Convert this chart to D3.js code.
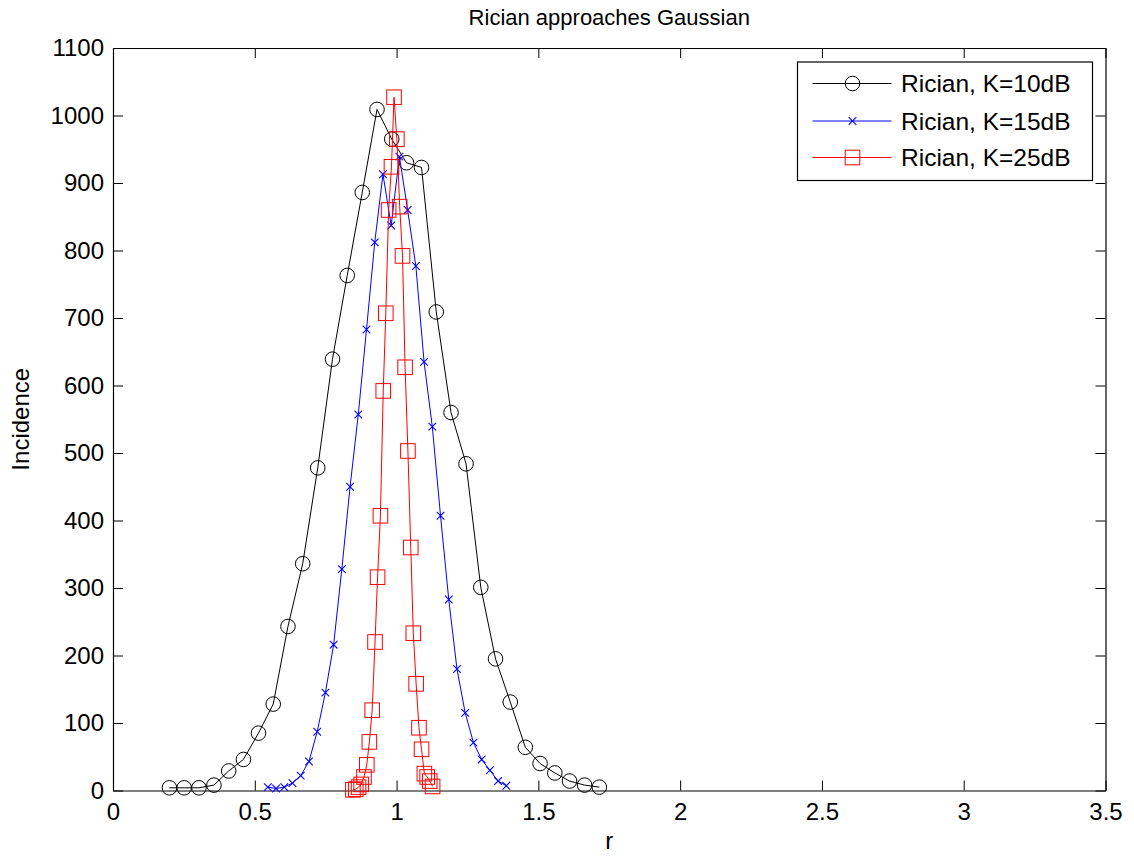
<!DOCTYPE html>
<html>
<head>
<meta charset="utf-8">
<script src="https://cdn.jsdelivr.net/npm/d3@7"></script>
<style>
  html, body { margin: 0; padding: 0; background: #fff; }
  svg { display: block; font-family: "Liberation Sans", Arial, Helvetica, sans-serif; }
</style>
</head>
<body>
<svg id="chart" width="1134" height="856"></svg>
<script>
// ---- data ----
const titleText = "Rician approaches Gaussian";
const xLabelText = "r";
const yLabelText = "Incidence";

const xTicks = [0, 0.5, 1, 1.5, 2, 2.5, 3, 3.5];
const xTickLabels = ["0", "0.5", "1", "1.5", "2", "2.5", "3", "3.5"];
const yTicks = [0, 100, 200, 300, 400, 500, 600, 700, 800, 900, 1000, 1100];
const yTickLabels = ["0", "100", "200", "300", "400", "500", "600", "700", "800", "900", "1000", "1100"];

const seriesNames = ["Rician, K=10dB", "Rician, K=15dB", "Rician, K=25dB"];

const rK10 = [0.199, 0.251, 0.303, 0.356, 0.408, 0.460, 0.513, 0.565, 0.617, 0.669,
              0.722, 0.774, 0.826, 0.879, 0.931, 0.983, 1.035, 1.088, 1.140, 1.192,
              1.245, 1.297, 1.349, 1.401, 1.454, 1.506, 1.558, 1.610, 1.663, 1.715];
const nK10 = [4, 4, 4, 8, 29, 46, 85, 128, 243, 336,
              478, 639, 763, 886, 1009, 965, 930, 923, 709, 560,
              484, 301, 195, 131, 64, 40, 26, 14, 8, 5];

const rK15 = [0.546, 0.575, 0.604, 0.633, 0.662, 0.691, 0.720, 0.749, 0.778, 0.807,
              0.836, 0.865, 0.894, 0.923, 0.952, 0.981, 1.010, 1.039, 1.068, 1.097,
              1.126, 1.155, 1.184, 1.213, 1.242, 1.271, 1.300, 1.329, 1.358, 1.387];
const nK15 = [5, 3, 5, 11, 22, 43, 87, 145, 216, 328,
              450, 557, 683, 812, 913, 837, 939, 860, 777, 635,
              539, 407, 283, 180, 115, 71, 46, 30, 14, 7];

const rK25 = [0.846, 0.856, 0.866, 0.875, 0.885, 0.895, 0.904, 0.914, 0.924, 0.933,
              0.943, 0.953, 0.962, 0.972, 0.982, 0.991, 1.001, 1.011, 1.021, 1.030,
              1.040, 1.050, 1.059, 1.069, 1.079, 1.088, 1.098, 1.108, 1.117, 1.127];
const nK25 = [1, 2, 5, 9, 20, 38, 72, 119, 220, 316,
              407, 592, 707, 860, 924, 1027, 965, 865, 792, 627,
              503, 360, 233, 158, 93, 61, 25, 20, 14, 6];

const seriesColors = ["#000000", "#0000ff", "#ff0000"];
const seriesMarkers = ["circle", "cross", "square"];

// ---- layout ----
const svg = d3.select("#chart");
const plot = { left: 113, top: 48, width: 992.5, height: 742.5 };
const fontSize = 24;

const x = d3.scaleLinear().domain([0, 3.5]).range([plot.left, plot.left + plot.width]);
const y = d3.scaleLinear().domain([0, 1100]).range([plot.top + plot.height, plot.top]);

const series = [
  { name: seriesNames[0], r: rK10, n: nK10, color: seriesColors[0], marker: seriesMarkers[0] },
  { name: seriesNames[1], r: rK15, n: nK15, color: seriesColors[1], marker: seriesMarkers[1] },
  { name: seriesNames[2], r: rK25, n: nK25, color: seriesColors[2], marker: seriesMarkers[2] }
];

// white axes background
svg.append("rect")
  .attr("x", plot.left).attr("y", plot.top)
  .attr("width", plot.width).attr("height", plot.height)
  .attr("fill", "#fff");

// ---- axes (MATLAB style: inward ticks, box with mirrored ticks) ----
const tickLen = 10;
const xAxisBottom = d3.axisBottom(x).tickValues(xTicks)
  .tickFormat((d, i) => xTickLabels[i]).tickSizeInner(-tickLen).tickSizeOuter(0).tickPadding(12);
const xAxisTop = d3.axisTop(x).tickValues(xTicks).tickFormat("").tickSizeInner(-tickLen).tickSizeOuter(0);
const yAxisLeft = d3.axisLeft(y).tickValues(yTicks)
  .tickFormat((d, i) => yTickLabels[i]).tickSizeInner(-tickLen).tickSizeOuter(0).tickPadding(9);
const yAxisRight = d3.axisRight(y).tickValues(yTicks).tickFormat("").tickSizeInner(-tickLen).tickSizeOuter(0);

function styleAxis(g) {
  g.selectAll("path.domain").attr("stroke", "#000").attr("stroke-width", 1.2);
  g.selectAll(".tick line").attr("stroke", "#000").attr("stroke-width", 1);
  g.selectAll(".tick text").attr("fill", "#000")
    .style("font-size", fontSize + "px")
    .style("font-family", '"Liberation Sans", Arial, sans-serif');
}

svg.append("g").attr("transform", `translate(0,${plot.top + plot.height})`).call(xAxisBottom).call(styleAxis);
svg.append("g").attr("transform", `translate(0,${plot.top})`).call(xAxisTop).call(styleAxis);
svg.append("g").attr("transform", `translate(${plot.left},0)`).call(yAxisLeft).call(styleAxis);
svg.append("g").attr("transform", `translate(${plot.left + plot.width},0)`).call(yAxisRight).call(styleAxis);

// ---- markers ----
function drawMarker(g, type, cx, cy, color) {
  if (type === "circle") {
    g.append("circle").attr("cx", cx).attr("cy", cy).attr("r", 7.3)
      .attr("fill", "none").attr("stroke", color).attr("stroke-width", 1);
  } else if (type === "square") {
    g.append("rect").attr("x", cx - 7.3).attr("y", cy - 7.3)
      .attr("width", 14.6).attr("height", 14.6)
      .attr("fill", "none").attr("stroke", color).attr("stroke-width", 1);
  } else if (type === "cross") {
    const s = 3.8;
    g.append("path")
      .attr("d", `M${cx - s},${cy - s}L${cx + s},${cy + s}M${cx - s},${cy + s}L${cx + s},${cy - s}`)
      .attr("stroke", color).attr("stroke-width", 1.1).attr("fill", "none");
  }
}

const line = d3.line().x(d => x(d[0])).y(d => y(d[1]));

series.forEach(s => {
  const pts = s.r.map((r, i) => [r, s.n[i]]);
  const g = svg.append("g");
  g.append("path").datum(pts)
    .attr("d", line)
    .attr("fill", "none")
    .attr("stroke", s.color)
    .attr("stroke-width", 1);
  pts.forEach(p => drawMarker(g, s.marker, x(p[0]), y(p[1]), s.color));
});

// ---- title & labels ----
svg.append("text")
  .attr("x", plot.left + plot.width / 2)
  .attr("y", 25)
  .attr("text-anchor", "middle")
  .style("font-size", "22px")
  .attr("fill", "#000")
  .text(titleText);

svg.append("text")
  .attr("x", plot.left + plot.width / 2)
  .attr("y", 849)
  .attr("text-anchor", "middle")
  .style("font-size", fontSize + "px")
  .attr("fill", "#000")
  .text(xLabelText);

svg.append("text")
  .attr("transform", `translate(29,${plot.top + plot.height / 2}) rotate(-90)`)
  .attr("text-anchor", "middle")
  .style("font-size", fontSize + "px")
  .attr("fill", "#000")
  .text(yLabelText);

// ---- legend ----
const legend = { x: 797.5, y: 62, w: 295, h: 118.5 };
const lg = svg.append("g");
lg.append("rect")
  .attr("x", legend.x).attr("y", legend.y)
  .attr("width", legend.w).attr("height", legend.h)
  .attr("fill", "#fff").attr("stroke", "#000").attr("stroke-width", 1.2);

const rowY = [83.5, 121, 157.5];
series.forEach((s, i) => {
  const yy = rowY[i];
  lg.append("line")
    .attr("x1", 812.5).attr("x2", 891.5)
    .attr("y1", yy).attr("y2", yy)
    .attr("stroke", s.color).attr("stroke-width", 1);
  drawMarker(lg, s.marker, 852.5, yy, s.color);
  lg.append("text")
    .attr("x", 901).attr("y", yy)
    .attr("dy", "0.36em")
    .style("font-size", "24.5px")
    .attr("fill", "#000")
    .text(s.name);
});
</script>
</body>
</html>
